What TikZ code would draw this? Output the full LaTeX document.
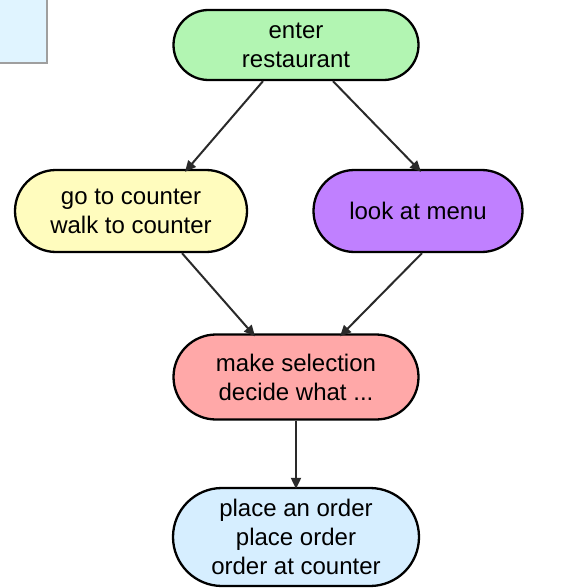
\documentclass[tikz,border=0pt]{standalone}
\usepackage{fontspec}
\setmainfont{Liberation Sans}
\usetikzlibrary{arrows.meta}
\definecolor{cgreen}{HTML}{B2F5B2}
\definecolor{cyellow}{HTML}{FFFCBE}
\definecolor{cpurple}{HTML}{C080FF}
\definecolor{cpink}{HTML}{FFA8A8}
\definecolor{cblue}{HTML}{D6EEFF}
\definecolor{cpanel}{HTML}{E0F4FF}
\definecolor{cline}{HTML}{2A2A2A}
\tikzset{
  stadium/.style={draw=black, line width=2.3pt, align=center, inner sep=0pt,
    font=\fontsize{24}{29}\selectfont},
  conn/.style={draw=cline, line width=2pt, -{Triangle[length=11pt,width=10pt]}}
}
\begin{document}
\begin{tikzpicture}[x=1pt,y=-1pt]
\useasboundingbox (0,0) rectangle (572,588);
% top-left panel
\fill[cpanel] (0,0) rectangle (47,63);
\draw[gray!75, line width=1.5pt] (47,0) -- (47,63) -- (0,63);
% nodes
\node[stadium, fill=cgreen, minimum width=245pt, minimum height=70pt, rounded corners=35pt] (enter) at (296,45) {enter\\restaurant};
\node[stadium, fill=cyellow, minimum width=232pt, minimum height=82pt, rounded corners=41pt] (go) at (131,211) {go to counter\\walk to counter};
\node[stadium, fill=cpurple, minimum width=209pt, minimum height=82pt, rounded corners=41pt] (look) at (418,211) {look at menu};
\node[stadium, fill=cpink, minimum width=245pt, minimum height=85pt, rounded corners=42.5pt] (make) at (296,377) {make selection\\decide what ...};
\node[stadium, fill=cblue, minimum width=246pt, minimum height=98pt, rounded corners=49pt] (place) at (296,537) {place an order\\place order\\order at counter};
% connectors
\draw[conn] ([xshift=-33pt]enter.south) -- ([xshift=54pt,yshift=-3pt]go.north);
\draw[conn] ([xshift=37pt]enter.south) -- ([xshift=3pt,yshift=-3pt]look.north);
\draw[conn] ([xshift=51pt]go.south) -- ([xshift=-41pt,yshift=-3pt]make.north);
\draw[conn] ([xshift=4pt]look.south) -- ([xshift=44pt,yshift=-3pt]make.north);
\draw[conn] (make.south) -- ([yshift=-2pt]place.north);
\end{tikzpicture}
\end{document}
